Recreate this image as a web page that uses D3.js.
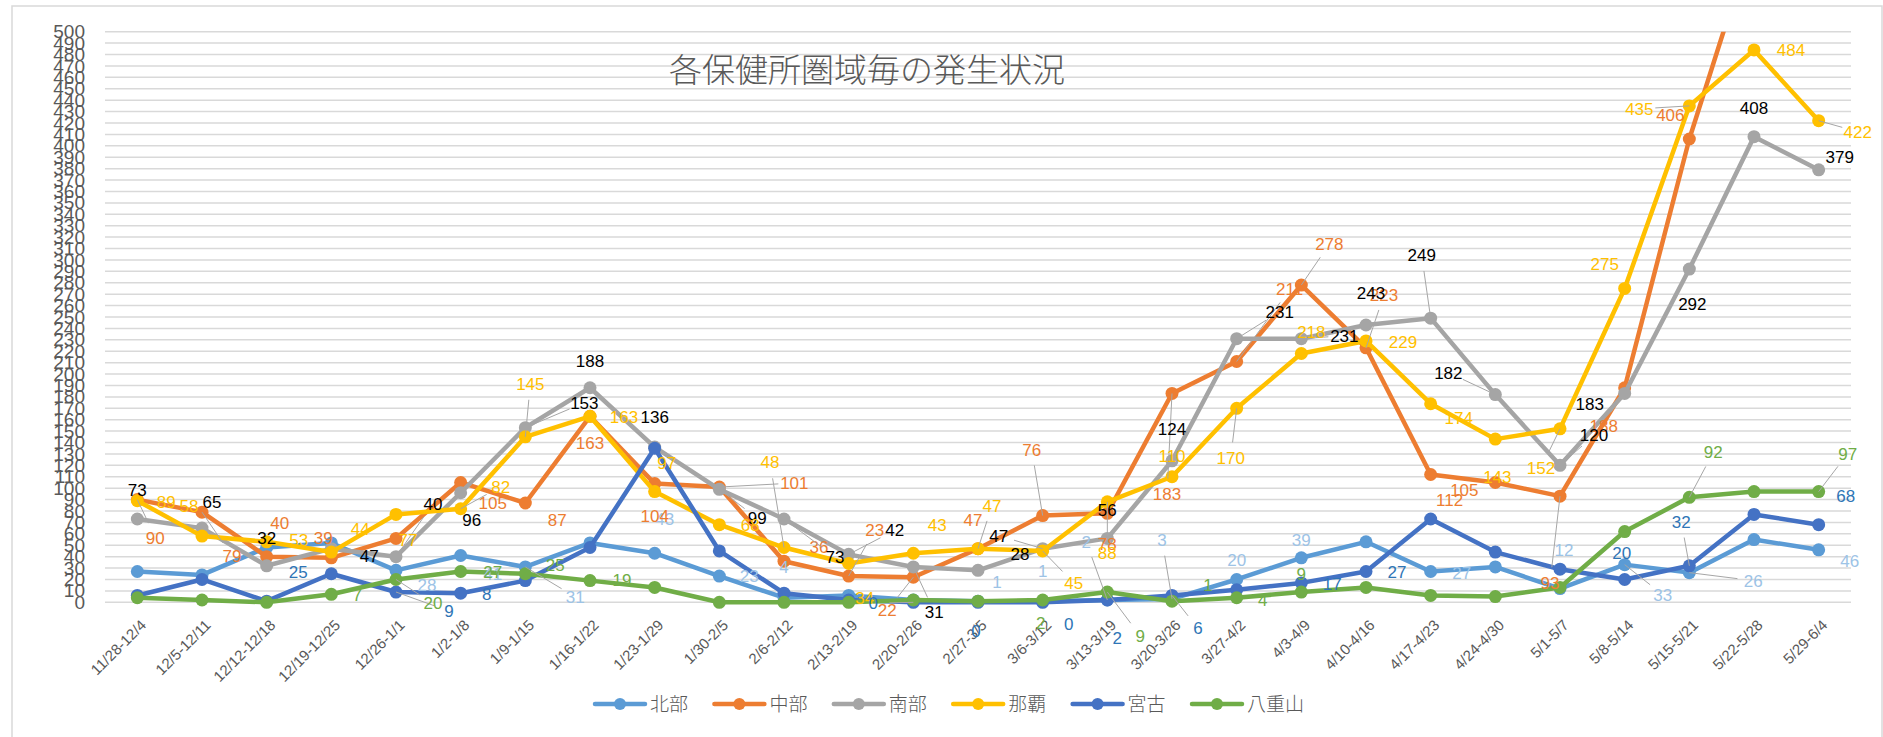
<!DOCTYPE html>
<html>
  <head>
    <meta charset="utf-8">
    <title></title>
  </head>
  <style>
    body {
      margin: 0;
      background-color: #fff;
      font-family: "Liberation Sans", "Noto Sans CJK JP", sans-serif;
    }
    .axis path { display: none; }
    .axis .tick line { display: none; }
    .axis text { fill: #595959; }
    .grid line { stroke: #d9d9d9; stroke-width: 1.5; }
  </style>
  <script src="https://d3js.org/d3.v7.min.js"></script>
  <body>
    <script>
    // 週ごとのカテゴリ
    const weeks = ["11/28-12/4", "12/5-12/11", "12/12-12/18", "12/19-12/25", "12/26-1/1", "1/2-1/8",
      "1/9-1/15", "1/16-1/22", "1/23-1/29", "1/30-2/5", "2/6-2/12", "2/13-2/19", "2/20-2/26",
      "2/27-3/5", "3/6-3/12", "3/13-3/19", "3/20-3/26", "3/27-4/2", "4/3-4/9", "4/10-4/16",
      "4/17-4/23", "4/24-4/30", "5/1-5/7", "5/8-5/14", "5/15-5/21", "5/22-5/28", "5/29-6/4"]

    const hokubu   = [27, 24, 48, 52, 28, 41, 31, 52, 43, 23, 4, 6, 2, 1, 1, 2, 3, 20, 39, 53, 27, 31, 12, 33, 26, 55, 46]
    const chubu    = [90, 79, 40, 39, 56, 105, 87, 163, 104, 101, 36, 23, 22, 47, 76, 78, 183, 211, 278, 223, 112, 105, 93, 188, 406, 584, 560]
    const nanbu    = [73, 65, 32, 47, 40, 96, 153, 188, 136, 99, 73, 42, 31, 28, 47, 56, 124, 231, 231, 243, 249, 182, 120, 183, 292, 408, 379]
    const naha     = [89, 58, 53, 44, 77, 82, 145, 163, 97, 68, 48, 34, 43, 47, 45, 88, 110, 170, 218, 229, 174, 143, 152, 275, 435, 484, 422]
    const miyako   = [6, 20, 1, 25, 9, 8, 19, 48, 135, 45, 8, 2, 0, 0, 0, 2, 6, 11, 17, 27, 73, 44, 29, 20, 32, 77, 68]
    const yaeyama  = [4, 2, 0, 7, 20, 27, 25, 19, 13, 0, 0, 0, 2, 1, 2, 9, 1, 4, 9, 13, 6, 5, 13, 62, 92, 97, 97]

    const yTicks = d3.range(0, 501, 10)
    const title = "各保健所圏域毎の発生状況"

    const series = [
      { name: "北部",   values: hokubu,  color: "#5B9BD5", label: "#9DC3E6" },
      { name: "中部",   values: chubu,   color: "#ED7D31", label: "#ED7D31" },
      { name: "南部",   values: nanbu,   color: "#A5A5A5", label: "#000000" },
      { name: "那覇",   values: naha,    color: "#FFC000", label: "#FFC000" },
      { name: "宮古",   values: miyako,  color: "#4472C4", label: "#2E75B6" },
      { name: "八重山", values: yaeyama, color: "#70AD47", label: "#70AD47" }
    ]

    // ラベルの位置（点からのずれ, null = 非表示）
    const labelShift = {
      "北部": [null, null, null, null, [31, 15], [32, 19], [50, 30], null, [10, -34], [30, 0], [0, -31], null, null,
               [19, -19], [0, -30], [-21, -58], [-10, -59], [0, -19], [0, -18], null, [31, 2], null, [4, -39], [38, 30], [64, 8], null, [31, 11]],
      "中部": [[18, 38], [30, 44], [13, -34], [-8, -20], null, [32, 21], [32, 17], [0, 27], [0, 32], [75, -4], [35, -14], [26, -46], [-26, 33],
               [-5, -29], [-11, -66], [0, 31], [-5, 101], [53, -72], [28, -41], [18, -53], [19, 26], [-31, 8], [-10, 87], [-21, 38], [-19, -24], null, null],
      "南部": [[0, -29], [10, -26], [0, -28], [38, 7], [37, -53], [11, 27], [59, -25], [0, -27], [0, -30], [38, 29], [51, 38], [46, -24], [21, 45],
               [42, -16], [-44, -13], [0, -28], [0, -32], [43, -27], [43, -3], [5, -32], [-9, -63], [-47, -22], [34, -30], [-35, 11], [3, 35], [0, -29], [21, -13]],
      "那覇": [[29, 1], [-13, -30], [32, -2], [29, -23], [12, 26], [40, -22], [5, -53], [34, 1], [12, -29], [31, 0], [-14, -85], [16, 35], [24, -28],
               [14, -43], [31, 32], [0, 51], [0, -21], [-6, 50], [10, -21], [37, 1], [28, 14], [2, 38], [-19, 39], [-20, -24], [-50, 3], [37, 0], [39, 11]],
      "宮古": [null, null, null, [-33, -2], [53, 19], [26, 1], null, null, null, null, null, null, [-40, 1],
               [-2, 29], [26, 22], [10, 38], [26, 33], null, [31, 1], [31, 1], null, null, null, [-3, -26], [-8, -44], null, [27, -29]],
      "八重山": [null, null, null, [26, 1], [37, 24], [32, 1], [30, -9], [32, -1], null, null, null, null, null,
               null, [-2, 23], [33, 44], [36, -16], [26, 2], [0, -18], null, null, null, null, null, [24, -45], null, [29, -38]]
    }

    var W = 1883, H = 737
    var plot = { left: 105, right: 1851, top: 31.7, bottom: 602.3 }

    var svg = d3.select("body").append("svg")
      .attr("width", W).attr("height", H)

    // 枠
    svg.append("rect")
      .attr("x", 12).attr("y", 6).attr("width", 1870).attr("height", 740)
      .attr("fill", "#fff").attr("stroke", "#d9d9d9").attr("stroke-width", 1.5)

    var xScale = d3.scaleBand().domain(weeks).range([plot.left, plot.right]).padding(0)
    var yScale = d3.scaleLinear().domain([0, 500]).range([plot.bottom, plot.top])
    var cx = function (i) { return xScale(weeks[i]) + xScale.bandwidth() / 2 }

    // グリッド
    svg.append("g").attr("class", "grid")
      .selectAll("line").data(yTicks).enter().append("line")
      .attr("x1", plot.left).attr("x2", plot.right)
      .attr("y1", d => yScale(d)).attr("y2", d => yScale(d))

    // y軸
    svg.append("g").attr("class", "axis")
      .attr("transform", "translate(" + plot.left + ",0)")
      .call(d3.axisLeft(yScale).tickValues(yTicks).tickSize(0).tickPadding(20))
      .selectAll("text").attr("font-size", "19px").attr("font-family", "Liberation Sans")

    // x軸
    var xAxis = svg.append("g").attr("class", "axis")
      .attr("transform", "translate(0," + plot.bottom + ")")
      .call(d3.axisBottom(xScale).tickSize(0))
    xAxis.selectAll("text")
      .attr("font-size", "15px").attr("font-family", "Liberation Sans")
      .attr("text-anchor", "end")
      .attr("x", 0).attr("y", 0).attr("dy", "0.35em")
      .attr("transform", "translate(6,20) rotate(-45)")

    // タイトル
    svg.append("text")
      .attr("x", 867).attr("y", 82)
      .attr("text-anchor", "middle")
      .attr("font-family", "Noto Sans CJK JP").attr("font-weight", 300)
      .attr("font-size", "33px").attr("fill", "#595959")
      .text(title)

    svg.append("clipPath").attr("id", "clip")
      .append("rect").attr("x", 0).attr("y", plot.top).attr("width", W).attr("height", H)

    var line = d3.line().x((d, i) => cx(i)).y(d => yScale(d))

    var lines = svg.append("g").attr("clip-path", "url(#clip)")
    series.forEach(function (s) {
      var g = lines.append("g")
      g.append("path")
        .attr("d", line(s.values))
        .attr("fill", "none").attr("stroke", s.color)
        .attr("stroke-width", 4.5).attr("stroke-linejoin", "round")
      g.selectAll("circle").data(s.values).enter().append("circle")
        .attr("cx", (d, i) => cx(i)).attr("cy", d => yScale(d))
        .attr("r", 6.5).attr("fill", s.color)
    })

    // データラベル
    var labels = svg.append("g")
    series.forEach(function (s) {
      s.values.forEach(function (v, i) {
        var sh = labelShift[s.name][i]
        if (!sh || v > 500) return
        var px = cx(i), py = yScale(v)
        var lx = px + sh[0], ly = py + sh[1]
        var dist = Math.hypot(sh[0], sh[1])
        if (dist > 40) {
          var k = (dist - 16) / dist
          labels.append("line")
            .attr("x1", px).attr("y1", py)
            .attr("x2", px + sh[0] * k).attr("y2", py + sh[1] * k)
            .attr("stroke", "#a6a6a6").attr("stroke-width", 1)
        }
        labels.append("text")
          .attr("x", lx).attr("y", ly)
          .attr("text-anchor", "middle").attr("dy", "0.35em")
          .attr("font-size", "17px").attr("fill", s.label)
          .text(v)
      })
    })

    // 凡例
    var legend = svg.append("g").attr("transform", "translate(595,704)")
    var item = legend.selectAll("g").data(series).enter().append("g")
      .attr("transform", (d, i) => "translate(" + (i * 119.4) + ",0)")
    item.append("line")
      .attr("x1", 0).attr("x2", 50).attr("y1", 0).attr("y2", 0)
      .attr("stroke", d => d.color).attr("stroke-width", 4.5).attr("stroke-linecap", "round")
    item.append("circle").attr("cx", 25).attr("cy", 0).attr("r", 6).attr("fill", d => d.color)
    item.append("text")
      .attr("x", 55).attr("y", 0).attr("dy", "0.35em")
      .attr("font-family", "Noto Sans CJK JP").attr("font-weight", 300)
      .attr("font-size", "19px").attr("fill", "#595959")
      .text(d => d.name)
    </script>
  </body>
</html>
